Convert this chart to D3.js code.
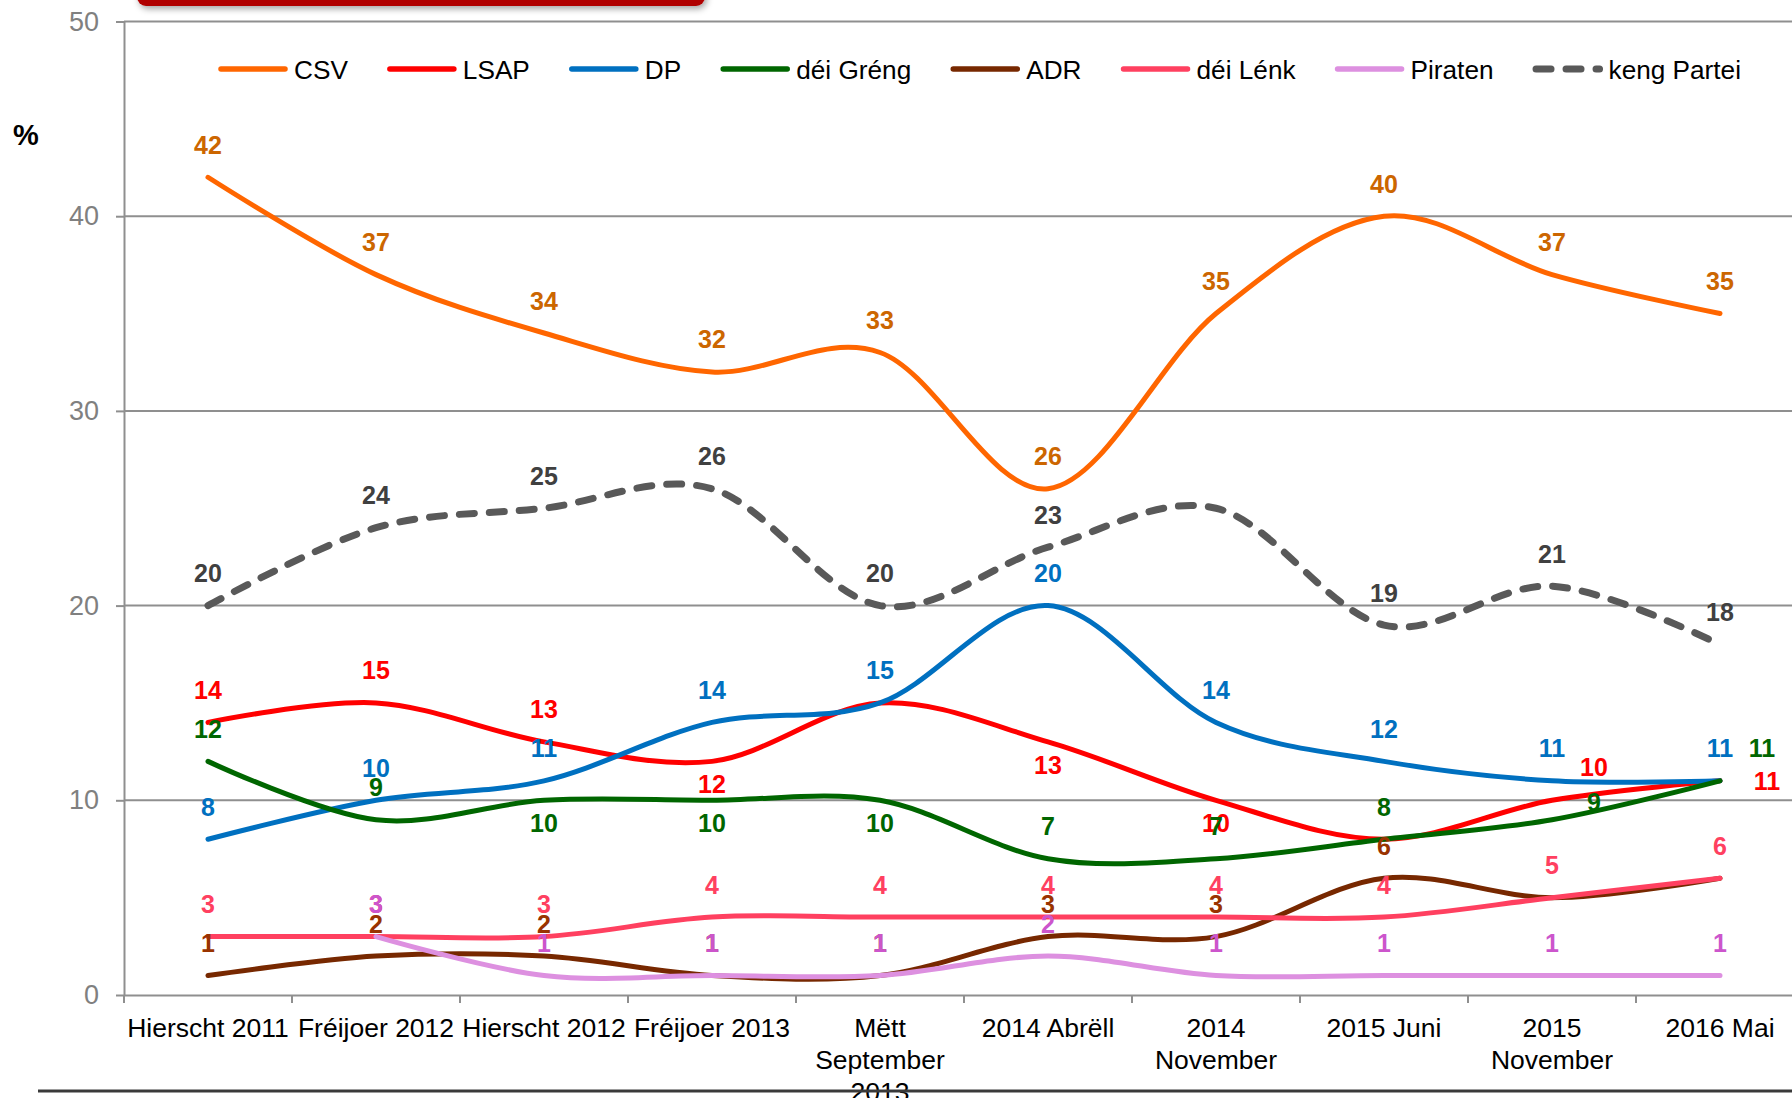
<!DOCTYPE html>
<html>
<head>
<meta charset="utf-8">
<title>Sondage Parteien 2011-2016</title>
<script src="https://d3js.org/d3.v7.min.js"></script>
<style>
  body { margin: 0; background: #fff; }
  svg { display: block; font-family: "Liberation Sans", Arial, sans-serif; }
  .grid line { stroke: #8f8f8f; stroke-width: 2px; }
  .axis path, .axis line { stroke: #8f8f8f; stroke-width: 2px; fill: none; }
  .y-axis text { fill: #808080; font-size: 27px; font-family: "Liberation Sans", Arial, sans-serif; }
  .x-axis text { fill: #000; font-size: 26.5px; font-family: "Liberation Sans", Arial, sans-serif; }
  .legend text { font-size: 26.2px; fill: #000; }
  .value-label { font-size: 25px; font-weight: bold; text-anchor: middle; }
  .series { fill: none; stroke-linecap: round; stroke-linejoin: round; }
</style>
</head>
<body>
<svg width="1792" height="1098"></svg>
<script>
// survey rounds
const categories = ["Hierscht 2011", "Fréijoer 2012", "Hierscht 2012", "Fréijoer 2013",
  "Mëtt September 2013", "2014 Abrëll", "2014 November", "2015 Juni", "2015 November", "2016 Mai"];
// x tick labels, as wrapped in the chart
const tickLabels = [["Hierscht 2011"], ["Fréijoer 2012"], ["Hierscht 2012"], ["Fréijoer 2013"],
  ["Mëtt", "September", "2013"], ["2014 Abrëll"], ["2014", "November"], ["2015 Juni"],
  ["2015", "November"], ["2016 Mai"]];
const yTicks = [0, 10, 20, 30, 40, 50];

const parties = ["CSV", "LSAP", "DP", "déi Gréng", "ADR", "déi Lénk", "Piraten", "keng Partei"];
const csvValues    = [42, 37, 34, 32, 33, 26, 35, 40, 37, 35];
const lsapValues   = [14, 15, 13, 12, 15, 13, 10, 8, 10, 11];
const dpValues     = [8, 10, 11, 14, 15, 20, 14, 12, 11, 11];
const grengValues  = [12, 9, 10, 10, 10, 7, 7, 8, 9, 11];
const adrValues    = [1, 2, 2, 1, 1, 3, 3, 6, 5, 6];
const lenkValues   = [3, 3, 3, 4, 4, 4, 4, 4, 5, 6];
const piratenValues = [null, 3, 1, 1, 1, 2, 1, 1, 1, 1];
const kengValues   = [20, 24, 25, 26, 20, 23, 25, 19, 21, 18];

// where each value label sits: a above, b below, r right, ar / rh up-right, "" not shown
const csvLabels    = ["a", "a", "a", "a", "a", "a", "a", "a", "a", "a"];
const lsapLabels   = ["a", "a", "a", "b", "", "b", "b", "", "ar", "r"];
const dpLabels     = ["a", "a", "a", "a", "a", "a", "a", "a", "a", "a"];
const grengLabels  = ["a", "a", "b", "b", "b", "a", "a", "a", "rh", "ar"];
const adrLabels    = ["a", "a", "a", "a", "a", "a", "a", "a", "", ""];
const lenkLabels   = ["a", "a", "a", "a", "a", "a", "a", "a", "a", "a"];
const piratenLabels = ["", "a", "a", "a", "a", "a", "a", "a", "a", "a"];
const kengLabels   = ["a", "a", "a", "a", "a", "a", "", "a", "a", "a"];

const seriesValues = [csvValues, lsapValues, dpValues, grengValues, adrValues, lenkValues, piratenValues, kengValues];
const seriesLabels = [csvLabels, lsapLabels, dpLabels, grengLabels, adrLabels, lenkLabels, piratenLabels, kengLabels];
const lineColors  = ["#ff6600", "#ff0000", "#0070c0", "#006600", "#772800", "#ff4060", "#dd90e0", "#595959"];
const labelColors = ["#cc6600", "#ff0000", "#0070c0", "#006600", "#993300", "#ff4060", "#cc55cc", "#404040"];

const labelOffsets = {
  a: [0, -32.5], b: [0, 23], r: [47, 0], ar: [42, -33], rh: [42, -18]
};

const svg = d3.select("svg");

// cut-off title box at the top
const defs = svg.append("defs");
const shadow = defs.append("filter").attr("id", "shadow")
  .attr("x", "-5%").attr("y", "-50%").attr("width", "110%").attr("height", "250%");
shadow.append("feDropShadow").attr("dx", 2).attr("dy", 3)
  .attr("stdDeviation", 3).attr("flood-color", "#000").attr("flood-opacity", 0.35);
svg.append("rect")
  .attr("x", 137).attr("y", -30).attr("width", 568).attr("height", 36)
  .attr("rx", 9).attr("fill", "#b00000")
  .attr("filter", "url(#shadow)");

const x = d3.scaleBand()
  .domain(categories)
  .range([124, 1804])
  .padding(0);

const y = d3.scaleLinear()
  .domain([0, 50])
  .range([995, 21.5]);

const cx = c => x(c) + x.bandwidth() / 2;

// horizontal gridlines
svg.append("g").attr("class", "grid")
  .selectAll("line")
  .data(yTicks.filter(t => t > 0))
  .join("line")
  .attr("x1", x.range()[0]).attr("x2", x.range()[1])
  .attr("y1", d => y(d)).attr("y2", d => y(d));

// y axis
svg.append("g")
  .attr("class", "axis y-axis")
  .attr("transform", `translate(${x.range()[0]},0)`)
  .call(d3.axisLeft(y).tickValues(yTicks).tickSize(8).tickSizeOuter(0).tickPadding(17));

// x axis
const xAxis = svg.append("g")
  .attr("class", "axis x-axis")
  .attr("transform", `translate(0,${y(0)})`)
  .call(d3.axisBottom(x).tickSize(0).tickSizeOuter(0).tickPadding(0));

xAxis.selectAll(".tick text").each(function(d, i) {
  const t = d3.select(this).text(null).attr("dy", null).attr("y", 0);
  tickLabels[i].forEach((line, j) => {
    t.append("tspan").attr("x", 0).attr("y", 42 + j * 32).text(line);
  });
});

// tick marks between the categories
xAxis.selectAll(".bound")
  .data(d3.range(categories.length + 1))
  .join("line")
  .attr("class", "bound")
  .attr("x1", i => x.range()[0] + i * x.step())
  .attr("x2", i => x.range()[0] + i * x.step())
  .attr("y1", 0).attr("y2", 8);

// % unit
svg.append("text")
  .attr("x", 26).attr("y", 145)
  .attr("text-anchor", "middle")
  .style("font-size", "29px").style("font-weight", "bold")
  .text("%");

// lines
const line = d3.line()
  .defined(d => d.v != null)
  .x(d => cx(d.c))
  .y(d => y(d.v))
  .curve(d3.curveCatmullRom.alpha(0));

parties.forEach((p, k) => {
  const pts = categories.map((c, i) => ({c: c, v: seriesValues[k][i]}));
  const path = svg.append("path")
    .datum(pts)
    .attr("class", "series")
    .attr("d", line)
    .attr("stroke", lineColors[k])
    .attr("stroke-width", p === "keng Partei" ? 7 : 5);
  if (p === "keng Partei") path.attr("stroke-dasharray", "15,15");
});

// value labels
parties.forEach((p, k) => {
  const pts = categories.map((c, i) => ({c: c, v: seriesValues[k][i], pos: seriesLabels[k][i]}))
    .filter(d => d.v != null && d.pos);
  svg.append("g").selectAll("text")
    .data(pts)
    .join("text")
    .attr("class", "value-label")
    .attr("fill", labelColors[k])
    .attr("x", d => cx(d.c) + labelOffsets[d.pos][0])
    .attr("y", d => y(d.v) + labelOffsets[d.pos][1] + 9)
    .text(d => d.v);
});

// legend
const legend = svg.append("g").attr("class", "legend");
let lx = 218;
const ly = 69;
parties.forEach((p, k) => {
  const item = legend.append("g").attr("transform", `translate(${lx},${ly})`);
  const dashed = p === "keng Partei";
  item.append("line")
    .attr("x1", dashed ? 3.5 : 3).attr("x2", 67)
    .attr("y1", 0).attr("y2", 0)
    .attr("stroke", lineColors[k])
    .attr("stroke-width", dashed ? 7 : 5.5)
    .attr("stroke-linecap", "round")
    .attr("stroke-dasharray", dashed ? "15,15" : null);
  const txt = item.append("text")
    .attr("x", 76).attr("y", 9.5)
    .text(p);
  lx += 76 + txt.node().getComputedTextLength() + 39;
});

// bottom rule
svg.append("line")
  .attr("x1", 38).attr("x2", 1792)
  .attr("y1", 1091).attr("y2", 1091)
  .attr("stroke", "#3a3a3a").attr("stroke-width", 3);
</script>
</body>
</html>
